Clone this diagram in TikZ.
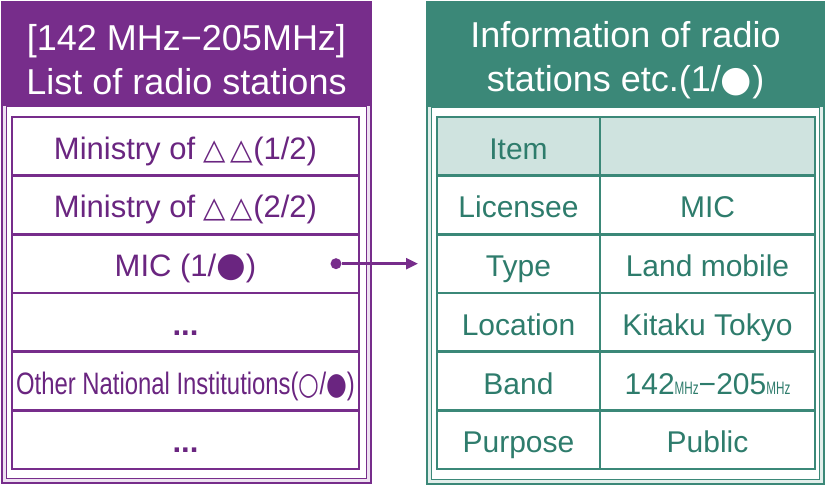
\documentclass[tikz,border=0pt]{standalone}
\usepackage{fontspec}
\usepackage{graphicx}
\setmainfont{Liberation Sans}
\newfontfamily\symf{DejaVu Sans}
\usetikzlibrary{arrows.meta}
\definecolor{pur}{HTML}{772D8B}
\definecolor{purtxt}{HTML}{6A2580}
\definecolor{lav}{HTML}{EEE2F1}
\definecolor{tealc}{HTML}{3B8878}
\definecolor{tealtxt}{HTML}{2E7C6C}
\definecolor{tealfill}{HTML}{CFE3DF}
\definecolor{tlight}{HTML}{E2EEEB}
\begin{document}
\begin{tikzpicture}[x=1pt,y=-1pt,
  lrow/.style={draw=pur, line width=2.6pt, minimum width=347pt, minimum height=58.67pt, inner sep=0pt, text height=26pt, text depth=0pt, font=\fontsize{31}{34}\selectfont, text=purtxt},
  rcell/.style={draw=tealc, line width=2.6pt, minimum height=58.67pt, inner sep=0pt, text height=26pt, text depth=0pt, font=\fontsize{30}{34}\selectfont, text=tealtxt},
  ccol/.style={rcell, minimum width=163pt},
  vcol/.style={rcell, minimum width=215pt},
  head/.style={align=center, text=white, font=\fontsize{36}{44}\selectfont},
  link/.style={draw=pur, line width=2.6pt, -{Triangle[length=12pt,width=11pt]}}
]
\useasboundingbox (0,0) rectangle (827,486);
% left frame
\draw[pur, line width=2pt, fill=lav] (2,2) rectangle (371,483);
\draw[pur, line width=1.2pt, fill=white] (6.5,106) rectangle (366.5,478.5);
\fill[pur] (2,2) rectangle (371,106);
\node[head] (lhead) at (186.5,60) {[142 MHz−205MHz]\\List of radio stations};
% left rows
\node[lrow] (l1) at (185.5,146.33) {Ministry of {\symf\fontsize{29}{30}\selectfont △\,△}(1/2)};
\node[lrow] (l2) at (185.5,205) {Ministry of {\symf\fontsize{29}{30}\selectfont △\,△}(2/2)};
\node[lrow] (l3) at (185.5,263.67) {MIC (1/{\symf\fontsize{34}{34}\selectfont●})};
\node[lrow] (l4) at (185.5,322.33) {\textbf{...}};
\node[lrow] (l5) at (185.5,381) {\scalebox{0.77}[1]{Other National Institutions({\symf○}/{\symf●})}};
\node[lrow] (l6) at (185.5,439.67) {\textbf{...}};
% right frame
\draw[tealc, line width=2pt, fill=tlight] (427,2) rectangle (824,484);
\draw[tealc, line width=1.2pt, fill=white] (431.5,107) rectangle (819.5,479.5);
\fill[tealc] (427,2) rectangle (824,107);
\node[head] (rhead) at (625.5,60) {Information of radio\\stations etc.(1/{\symf●})};
% right table
\node[ccol, fill=tealfill] (c1) at (518.5,146.33) {Item};
\node[vcol, fill=tealfill] (v1) at (707.5,146.33) {};
\node[ccol] (c2) at (518.5,205) {Licensee};
\node[vcol] (v2) at (707.5,205) {MIC};
\node[ccol] (c3) at (518.5,263.67) {Type};
\node[vcol] (v3) at (707.5,263.67) {Land mobile};
\node[ccol] (c4) at (518.5,322.33) {Location};
\node[vcol] (v4) at (707.5,322.33) {Kitaku Tokyo};
\node[ccol] (c5) at (518.5,381) {Band};
\node[vcol] (v5) at (707.5,381) {142{\fontsize{18}{18}\selectfont\scalebox{0.65}[1]{MHz}}−205{\fontsize{18}{18}\selectfont\scalebox{0.65}[1]{MHz}}};
\node[ccol] (c6) at (518.5,439.67) {Purpose};
\node[vcol] (v6) at (707.5,439.67) {Public};
% connector
\node[circle, fill=pur, inner sep=0pt, minimum size=11pt] (dot) at (336,263.67) {};
\coordinate (tip) at (418,263.67);
\draw[link] (dot) -- (tip);
\end{tikzpicture}
\end{document}
